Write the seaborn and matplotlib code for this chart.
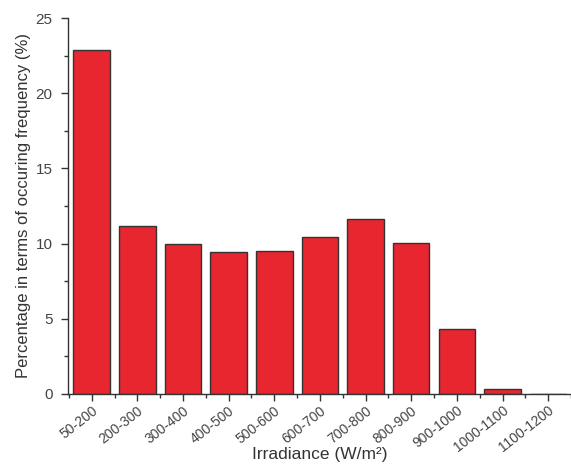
import matplotlib
matplotlib.use("Agg")
import matplotlib.pyplot as plt
import seaborn as sns
import pandas as pd
from matplotlib.ticker import MultipleLocator, FixedLocator

categories = ['50-200', '200-300', '300-400', '400-500', '500-600', '600-700',
              '700-800', '800-900', '900-1000', '1000-1100', '1100-1200']
percentages = [22.9, 11.15, 10.0, 9.45, 9.5, 10.45, 11.6, 10.05, 4.3, 0.33, 0.0]

df = pd.DataFrame({'Irradiance': categories, 'Percentage': percentages})

sns.set_style('ticks')
plt.rcParams['font.family'] = ['Liberation Sans', 'DejaVu Sans']

fig = plt.figure(figsize=(5.71, 4.66), dpi=100)
ax = fig.add_axes([0.119, 0.155, 0.881, 0.806])

sns.barplot(data=df, x='Irradiance', y='Percentage', color='#E8262F',
            edgecolor='#333333', linewidth=1.0, width=0.8, saturation=1, ax=ax)

ax.set_ylim(0, 25)
ax.set_xlim(-0.52, 10.5)
ax.yaxis.set_major_locator(MultipleLocator(5))
ax.yaxis.set_minor_locator(MultipleLocator(2.5))
ax.xaxis.set_minor_locator(FixedLocator([i + 0.5 for i in range(-1, len(categories))]))

ax.tick_params(axis='both', which='major', direction='out', length=5, width=1,
               color='#333333', labelcolor='#444444')
ax.tick_params(axis='both', which='minor', direction='out', length=3, width=1,
               color='#333333')
ax.tick_params(axis='y', labelsize=11, pad=6)
ax.tick_params(axis='x', labelsize=10, pad=2)
plt.setp(ax.get_xticklabels(), rotation=38, ha='right', rotation_mode='anchor')

for s in ['left', 'bottom']:
    ax.spines[s].set_color('#333333')
    ax.spines[s].set_linewidth(1.0)
sns.despine(ax=ax)

ax.set_xlabel('Irradiance (W/m²)', fontsize=12.5, color='#333333')
ax.xaxis.set_label_coords(0.5, -0.163)
ax.xaxis.label.set_verticalalignment('center')
ax.set_ylabel('Percentage in terms of occuring frequency (%)', fontsize=12,
              color='#333333')
ax.yaxis.set_label_coords(-0.088, 0.5)
ax.yaxis.label.set_verticalalignment('center')

fig.savefig('out.png', dpi=100)
